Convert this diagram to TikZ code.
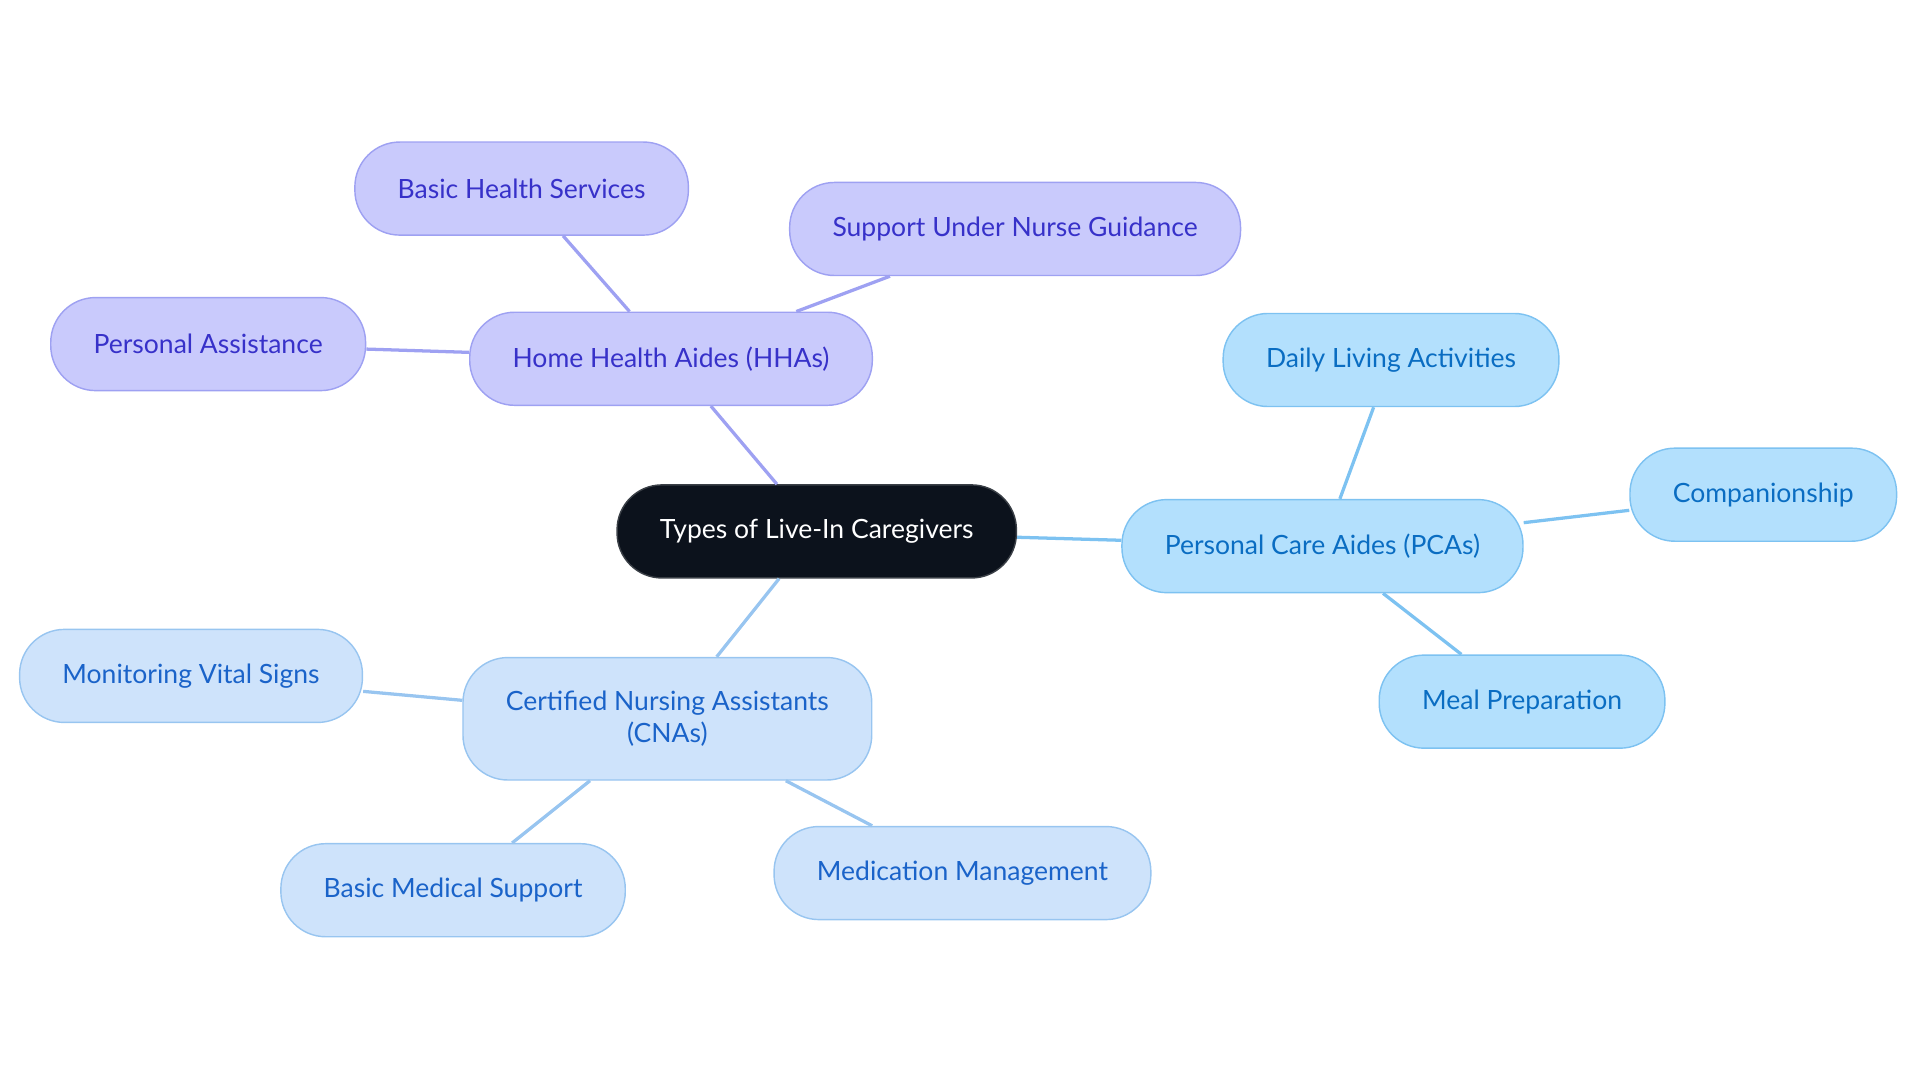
\documentclass[tikz,border=0pt]{standalone}
\usepackage{fontspec}
\setmainfont{Lato}

\definecolor{rootfill}{HTML}{0C121C}
\definecolor{rootline}{HTML}{3A3F46}
\definecolor{hhafill}{HTML}{C9CAFC}
\definecolor{hhaline}{HTML}{9EA1F2}
\definecolor{hhatext}{HTML}{3731C9}
\definecolor{pcafill}{HTML}{B3E0FD}
\definecolor{pcaline}{HTML}{7DC2F1}
\definecolor{pcatext}{HTML}{0A6DC2}
\definecolor{cnafill}{HTML}{CEE3FB}
\definecolor{cnaline}{HTML}{98C5F0}
\definecolor{cnatext}{HTML}{1A63C9}

\begin{document}
\begin{tikzpicture}[x=0.6pt,y=-0.6pt,
  box/.style={rounded corners=22pt, minimum height=45.6pt, inner xsep=21pt,
    font=\fontsize{13}{16}\selectfont, align=center, line width=0.7pt},
  rootbox/.style={box, fill=rootfill, draw=rootline, text=white},
  hhabox/.style={box, fill=hhafill, draw=hhaline, text=hhatext},
  pcabox/.style={box, fill=pcafill, draw=pcaline, text=pcatext},
  cnabox/.style={box, fill=cnafill, draw=cnaline, text=cnatext},
  link/.style={line width=1.6pt}]

  \useasboundingbox (0,0) rectangle (1568,884);

  % Define nodes
  \node[rootbox] (root) at (667,434) {Types of Live-In Caregivers};

  \node[hhabox] (hha)  at (548,293) {Home Health Aides (HHAs)};
  \node[hhabox] (bhs)  at (426,154) {Basic Health Services};
  \node[hhabox] (sung) at (829,187) {Support Under Nurse Guidance};
  \node[hhabox] (pa)   at (170,281) {Personal Assistance};

  \node[pcabox] (pca)  at (1080,446) {Personal Care Aides (PCAs)};
  \node[pcabox] (dla)  at (1136,294) {Daily Living Activities};
  \node[pcabox] (comp) at (1440,404) {Companionship};
  \node[pcabox] (meal) at (1243,573) {Meal Preparation};

  \node[cnabox, minimum height=60pt] (cna) at (545,587) {Certified Nursing Assistants\\(CNAs)};
  \node[cnabox] (mvs)  at (156,552) {Monitoring Vital Signs};
  \node[cnabox] (bms)  at (370,727) {Basic Medical Support};
  \node[cnabox] (med)  at (786,713) {Medication Management};

  % Edges
  \draw[link, hhaline] (root) -- (hha);
  \draw[link, hhaline] (hha) -- (bhs);
  \draw[link, hhaline] (hha) -- (sung);
  \draw[link, hhaline] (hha) -- (pa);

  \draw[link, pcaline] (root) -- (pca);
  \draw[link, pcaline] (pca) -- (dla);
  \draw[link, pcaline] (pca) -- (comp);
  \draw[link, pcaline] (pca) -- (meal);

  \draw[link, cnaline] (root) -- (cna);
  \draw[link, cnaline] (cna) -- (mvs);
  \draw[link, cnaline] (cna) -- (bms);
  \draw[link, cnaline] (cna) -- (med);

\end{tikzpicture}
\end{document}
